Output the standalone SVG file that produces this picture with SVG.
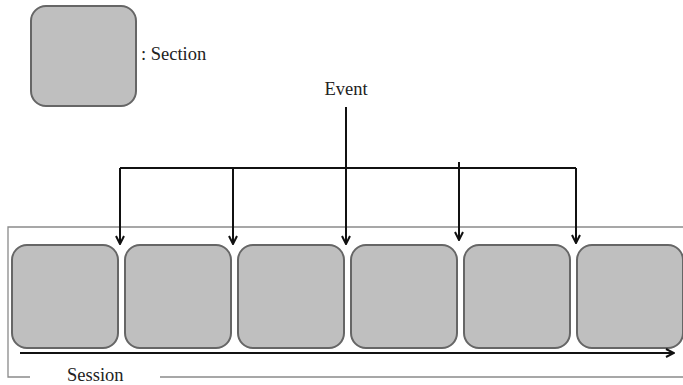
<svg xmlns="http://www.w3.org/2000/svg" width="683" height="385" viewBox="0 0 683 385">
<defs>
<style>
.sec{fill:#bfbfbf;stroke:#666;stroke-width:2}
.lbl{font-family:"Liberation Serif","Times New Roman",serif;font-size:18.5px;fill:#222}
.conn{stroke:#111;stroke-width:2;fill:none}
.frame{stroke:#8a8a8a;stroke-width:1.3;fill:none}
</style>
<marker id="ah" viewBox="0 0 10 10" refX="9" refY="5" markerWidth="5" markerHeight="5" orient="auto" markerUnits="strokeWidth">
<path d="M1,1 L9,5 L1,9" fill="none" stroke="#111" stroke-width="2"/>
</marker>
</defs>
<rect width="683" height="385" fill="#fff"/>
<g id="legend">
<rect class="sec" x="31" y="6" width="105" height="100" rx="15"/>
<text class="lbl" x="141" y="60">: Section</text>
</g>
<g id="session">
<path class="frame" d="M683,227 H8 V377 H30 M160,377 H683"/>
<text class="lbl" x="67" y="381">Session</text>
</g>
<g id="section1"><rect class="sec" x="12" y="245" width="106" height="103" rx="15"/></g>
<g id="section2"><rect class="sec" x="125" y="245" width="106" height="103" rx="15"/></g>
<g id="section3"><rect class="sec" x="238" y="245" width="106" height="103" rx="15"/></g>
<g id="section4"><rect class="sec" x="351" y="245" width="106" height="103" rx="15"/></g>
<g id="section5"><rect class="sec" x="464" y="245" width="106" height="103" rx="15"/></g>
<g id="section6"><rect class="sec" x="577" y="245" width="106" height="103" rx="15"/></g>
<g id="event">
<text class="lbl" x="346" y="95" text-anchor="middle">Event</text>
</g>
<g id="connectors">
<path class="conn" d="M120,168 H576"/>
<path class="conn" d="M346,107 V244" marker-end="url(#ah)"/>
<path class="conn" d="M120,168 V244" marker-end="url(#ah)"/>
<path class="conn" d="M233,168 V244" marker-end="url(#ah)"/>
<path class="conn" d="M459,162 V240" marker-end="url(#ah)"/>
<path class="conn" d="M576,168 V243" marker-end="url(#ah)"/>
<path class="conn" d="M20,353 H674" stroke-width="3" marker-end="url(#ah)"/>
</g>
</svg>
